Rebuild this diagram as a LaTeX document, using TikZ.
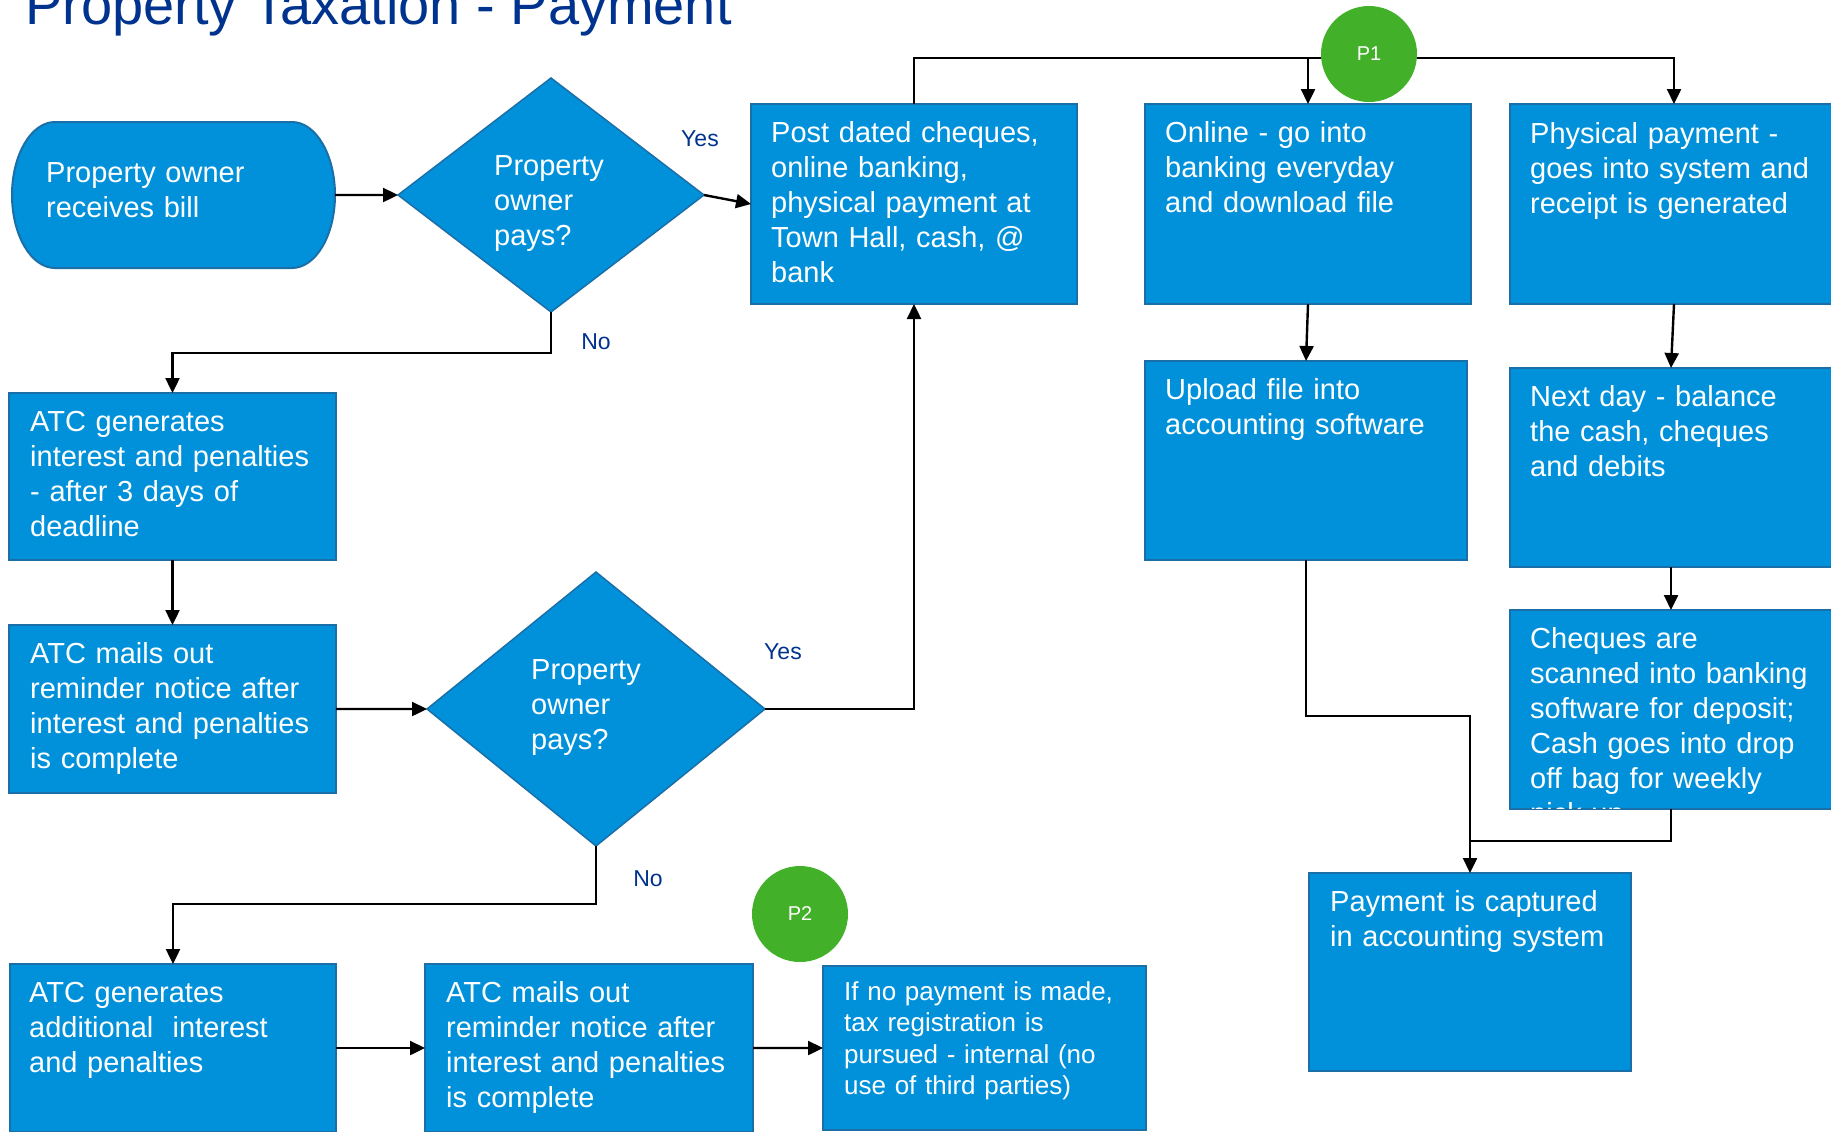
\documentclass[tikz,border=0pt]{standalone}
\usepackage{fontspec}
\setmainfont{Liberation Sans}
\usetikzlibrary{shapes.geometric,arrows.meta,calc}

\definecolor{kblue}{HTML}{0091DA}
\definecolor{kedge}{HTML}{1B6FA8}
\definecolor{kdark}{HTML}{00338D}
\definecolor{kgreen}{HTML}{43B02A}

\tikzset{
  procbox/.style={rectangle, fill=kblue, draw=kedge, line width=2bp,
    inner sep=0pt, outer sep=0pt, anchor=north west},
  decbox/.style={diamond, fill=kblue, draw=kedge, line width=1.5bp,
    inner sep=0pt, outer sep=0pt},
  boxtext/.style={text=white, anchor=base west, inner sep=0pt,
    text width=400bp, align=left, font=\fontsize{29bp}{35bp}\selectfont},
  smalltext/.style={boxtext, font=\fontsize{26bp}{31.6bp}\selectfont},
  yesno/.style={text=kdark, inner sep=0pt, font=\fontsize{23bp}{27bp}\selectfont},
  badge/.style={circle, fill=kgreen, minimum size=96bp, inner sep=0pt,
    text=white, font=\fontsize{20bp}{24bp}\selectfont},
  wire/.style={line width=2.4bp, black},
  flow/.style={wire, -{Triangle[length=15bp,width=14bp]}},
}

\begin{document}
\begin{tikzpicture}[x=1bp, y=-1bp]
\useasboundingbox (0,0) rectangle (1831,1131);
\clip (0,0) rectangle (1831,1131);

% title
\node[anchor=base west, inner sep=0pt, text=kdark,
  font=\fontsize{56bp}{60bp}\selectfont] (title) at (25,24)
  {Property Taxation - Payment};

% start terminator
\node[minimum width=323bp, minimum height=146bp, inner sep=0pt, outer sep=0pt,
  anchor=north west] (start) at (12,122) {};
\filldraw[fill=kblue, draw=kedge, line width=2bp]
  (55,122) -- (292,122)
  arc[start angle=-90, end angle=90, x radius=43, y radius=73]
  -- (55,268)
  arc[start angle=90, end angle=270, x radius=43, y radius=73] -- cycle;
\node[boxtext] (start-t) at (46,182) {Property owner\\receives bill};

% decisions
\node[decbox, minimum width=306bp, minimum height=234bp] (d1) at (551,195) {};
\node[boxtext] (d1-t) at (494,175) {Property\\owner\\pays?};
\node[decbox, minimum width=338bp, minimum height=274bp] (d2) at (596,709) {};
\node[boxtext] (d2-t) at (531,679) {Property\\owner\\pays?};

% process boxes
\node[procbox, minimum width=326bp, minimum height=200bp] (post) at (751,104) {};
\node[boxtext] (post-t) at (771,142)
  {Post dated cheques,\\online banking,\\physical payment at\\Town Hall, cash, @\\bank};

\node[procbox, minimum width=326bp, minimum height=200bp] (online) at (1145,104) {};
\node[boxtext] (online-t) at (1165,142)
  {Online - go into\\banking everyday\\and download file};

\node[procbox, minimum width=328bp, minimum height=200bp] (phys) at (1510,104) {};
\node[boxtext] (phys-t) at (1530,143)
  {Physical payment -\\goes into system and\\receipt is generated};

\node[procbox, minimum width=322bp, minimum height=199bp] (upload) at (1145,361) {};
\node[boxtext] (upload-t) at (1165,399)
  {Upload file into\\accounting software};

\node[procbox, minimum width=322bp, minimum height=199bp] (nextday) at (1510,368) {};
\node[boxtext] (nextday-t) at (1530,406)
  {Next day - balance\\the cash, cheques\\and debits};

\node[procbox, minimum width=322bp, minimum height=199bp] (cheques) at (1510,610) {};
\begin{scope}
  \clip (1511,611) rectangle (1831,808);
  \node[boxtext] (cheques-t) at (1530,648)
    {Cheques are\\scanned into banking\\software for deposit;\\Cash goes into drop\\off bag for weekly\\pick up};
\end{scope}

\node[procbox, minimum width=322bp, minimum height=198bp] (pay) at (1309,873) {};
\node[boxtext] (pay-t) at (1330,911)
  {Payment is captured\\in accounting system};

\node[procbox, minimum width=327bp, minimum height=167bp] (atc1) at (9,393) {};
\node[boxtext] (atc1-t) at (30,431)
  {ATC generates\\interest and penalties\\- after 3 days of\\deadline};

\node[procbox, minimum width=327bp, minimum height=168bp] (atc2) at (9,625) {};
\node[boxtext] (atc2-t) at (30,663)
  {ATC mails out\\reminder notice after\\interest and penalties\\is complete};

\node[procbox, minimum width=326bp, minimum height=168bp] (atc3) at (10,964) {};
\node[boxtext] (atc3-t) at (29,1002)
  {ATC generates\\additional~ interest\\and penalties};

\node[procbox, minimum width=328bp, minimum height=168bp] (atc4) at (425,964) {};
\node[boxtext] (atc4-t) at (446,1002)
  {ATC mails out\\reminder notice after\\interest and penalties\\is complete};

\node[procbox, minimum width=323bp, minimum height=164bp] (ifbox) at (823,966) {};
\node[smalltext] (ifbox-t) at (844,1000)
  {If no payment is made,\\tax registration is\\pursued - internal (no\\use of third parties)};

% branch labels
\node[yesno] (yes1) at (700,139) {Yes};
\node[yesno] (no1) at (596,342) {No};
\node[yesno] (yes2) at (783,652) {Yes};
\node[yesno] (no2) at (648,879) {No};

% connectors
\draw[flow] (start.east) -- (d1.west);
\draw[flow] (d1.east) -- (post.west);
\draw[flow] (d1.south) -- ++(0,41) -| (atc1.north);
\draw[flow] (atc1.south) -- (atc2.north);
\draw[flow] (atc2.east) -- (d2.west);
\draw[flow] (d2.east) -| (post.south);
\draw[flow] (d2.south) -- ++(0,58) -| (atc3.north);
\draw[flow] (atc3.east) -- (atc4.west);
\draw[flow] (atc4.east) -- (ifbox.west);

\coordinate (bus) at ($(post.north)+(0,-46)$);
\draw[flow] (post.north) -- (bus) -| (phys.north);
\draw[flow] (bus -| online.north) -- (online.north);
\draw[flow] (online.south) -- (upload.north);
\draw[flow] (phys.south) -- (nextday.north);
\draw[flow] (nextday.south) -- (cheques.north);
\draw[flow] (upload.south) -- ++(0,156) -| (pay.north);
\draw[wire] (cheques.south) -- ++(0,32) coordinate (cq) -- (cq -| pay.north);

% page markers
\node[badge] (p1) at (1369,54) {P1};
\node[badge] (p2) at (800,914) {P2};
\end{tikzpicture}
\end{document}
